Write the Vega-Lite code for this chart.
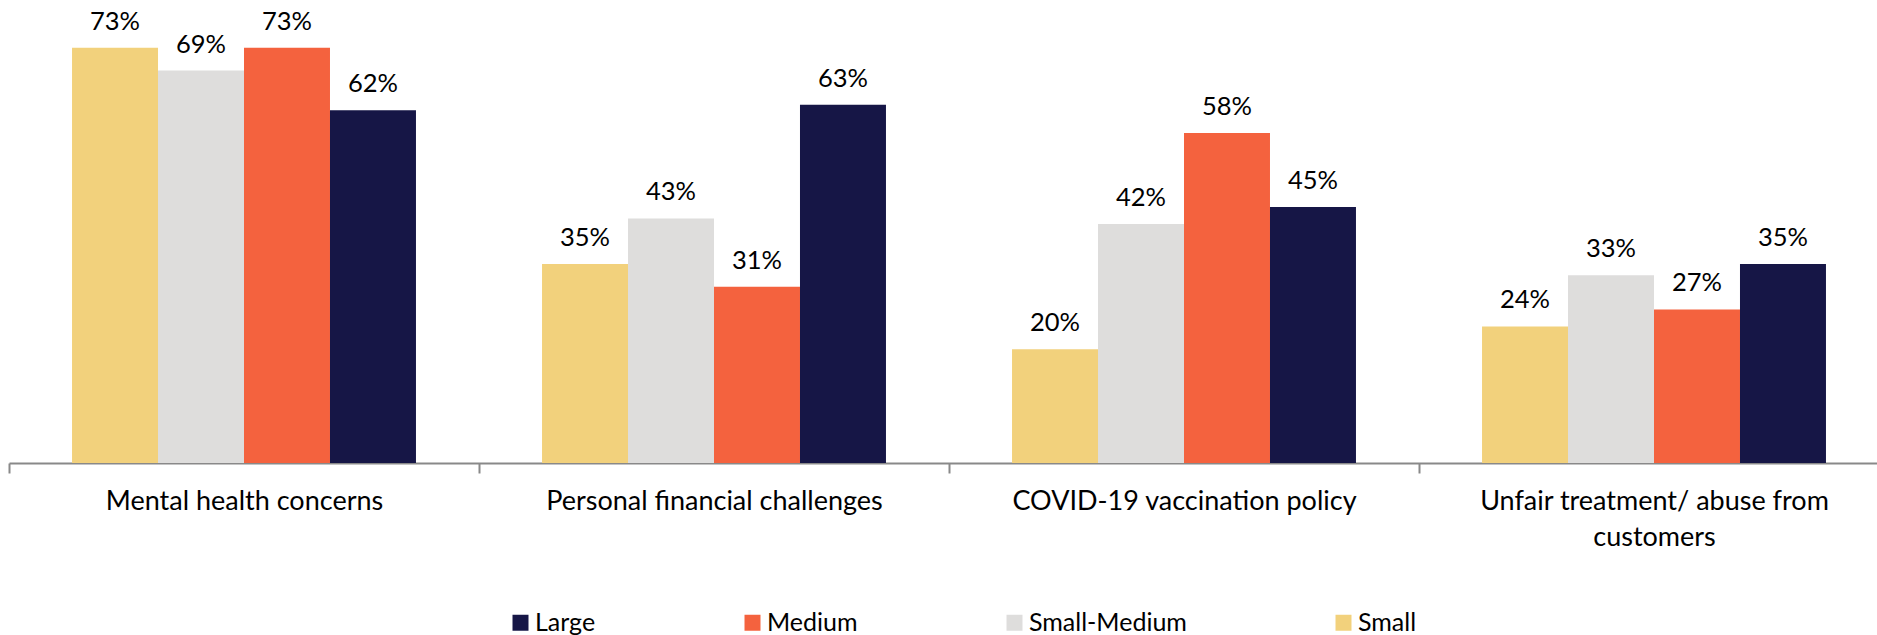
{
  "$schema": "https://vega.github.io/schema/vega-lite/v6.json",
  "width": 1880,
  "height": 463,
  "padding": {"left": 8, "top": 0, "right": 0, "bottom": 0},
  "background": "white",
  "config": {"view": {"stroke": null}, "font": "Lato"},
  "data": {"values": [
    {"cat": "Mental health concerns", "size": "Small", "v": 0.73},
    {"cat": "Mental health concerns", "size": "Small-Medium", "v": 0.69},
    {"cat": "Mental health concerns", "size": "Medium", "v": 0.73},
    {"cat": "Mental health concerns", "size": "Large", "v": 0.62},
    {"cat": "Personal financial challenges", "size": "Small", "v": 0.35},
    {"cat": "Personal financial challenges", "size": "Small-Medium", "v": 0.43},
    {"cat": "Personal financial challenges", "size": "Medium", "v": 0.31},
    {"cat": "Personal financial challenges", "size": "Large", "v": 0.63},
    {"cat": "COVID-19 vaccination policy", "size": "Small", "v": 0.20},
    {"cat": "COVID-19 vaccination policy", "size": "Small-Medium", "v": 0.42},
    {"cat": "COVID-19 vaccination policy", "size": "Medium", "v": 0.58},
    {"cat": "COVID-19 vaccination policy", "size": "Large", "v": 0.45},
    {"cat": "Unfair treatment/ abuse from customers", "size": "Small", "v": 0.24},
    {"cat": "Unfair treatment/ abuse from customers", "size": "Small-Medium", "v": 0.33},
    {"cat": "Unfair treatment/ abuse from customers", "size": "Medium", "v": 0.27},
    {"cat": "Unfair treatment/ abuse from customers", "size": "Large", "v": 0.35}
  ]},
  "encoding": {
    "x": {
      "field": "cat", "type": "nominal", "sort": null, "title": null,
      "scale": {"paddingInner": 0, "paddingOuter": 0},
      "axis": {
        "labelAngle": 0, "labelFont": "Lato", "labelFontSize": 27, "labelColor": "#000000",
        "labelLineHeight": 36, "labelPadding": 15, "labelLimit": 0,
        "labelExpr": "datum.label == 'Unfair treatment/ abuse from customers' ? ['Unfair treatment/ abuse from', 'customers'] : datum.label",
        "domainColor": "#898989", "domainWidth": 2, "tickColor": "#898989", "tickWidth": 2, "tickSize": 10,
        "tickBand": "extent"
      }
    },
    "xOffset": {"field": "size", "type": "nominal", "sort": ["Small", "Small-Medium", "Medium", "Large"], "scale": {"paddingOuter": 0.733, "paddingInner": 0}},
    "y": {"field": "v", "type": "quantitative", "scale": {"domain": [0, 0.814]}, "axis": null}
  },
  "layer": [
    {
      "mark": {"type": "bar"},
      "encoding": {
        "color": {
          "field": "size", "type": "nominal",
          "scale": {"domain": ["Large", "Medium", "Small-Medium", "Small"], "range": ["#161646", "#F4623E", "#DEDDDC", "#F2D17C"]},
          "legend": {
            "title": null, "orient": "none", "direction": "horizontal", "legendX": 499, "legendY": 610,
            "symbolType": "square", "symbolSize": 256, "symbolStrokeWidth": 0,
            "labelFont": "Lato", "labelFontSize": 25, "labelColor": "#000000", "labelOffset": 2,
            "columnPadding": 144, "labelLimit": 0
          }
        }
      }
    },
    {
      "mark": {"type": "text", "baseline": "alphabetic", "dy": -18, "fontSize": 25.5, "font": "Lato", "color": "#000000"},
      "encoding": {"text": {"field": "v", "type": "quantitative", "format": ".0%"}}
    }
  ]
}
